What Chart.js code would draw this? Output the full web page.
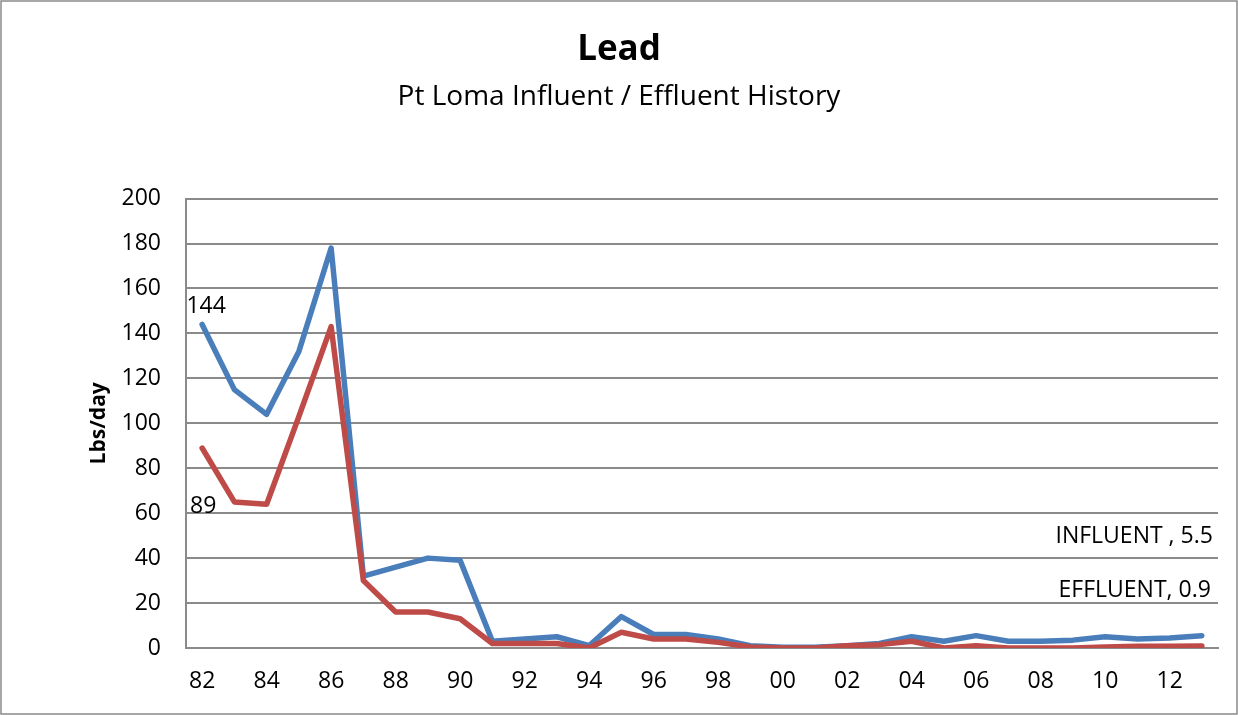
<!DOCTYPE html>
<html>
<head>
<meta charset="utf-8">
<script src="https://cdn.jsdelivr.net/npm/chart.js@4"></script>
<style>
  html, body { margin: 0; padding: 0; background: #fff; }
  #wrap { width: 1238px; height: 715px; }
</style>
</head>
<body>
<div id="wrap"><canvas id="leadCanvas" width="1238" height="715"></canvas></div>
<script>
// years 1982 - 2013, two-digit labels
const years = ["82","83","84","85","86","87","88","89","90","91","92","93","94","95","96","97",
               "98","99","00","01","02","03","04","05","06","07","08","09","10","11","12","13"];
const influent = [144, 115, 104, 132, 178, 32, 36, 40, 39, 3, 4, 5, 1, 14, 6, 6,
                  4, 1, 0.3, 0.3, 1, 2, 5, 3, 5.5, 3, 3, 3.5, 5, 4, 4.5, 5.5];
const effluent = [89, 65, 64, 103, 143, 30, 16, 16, 13, 2, 2, 2, 0, 7, 4, 4,
                  2.5, 0.5, 0, 0, 1, 1.5, 3, 0, 1, 0, 0, 0, 0.5, 0.8, 0.8, 0.9];
const yTicks = [0, 20, 40, 60, 80, 100, 120, 140, 160, 180, 200];

const FONT = "'Open Sans', 'Liberation Sans', sans-serif";
const GRID = "#8a8a8a";

// frame + hand placed data labels (like the excel ones)
const extras = {
    id: 'extras',
    beforeDraw(chart) {
        const c = chart.ctx;
        c.save();
        c.fillStyle = "#fff";
        c.fillRect(0, 0, chart.width, chart.height);
        c.strokeStyle = GRID;
        c.lineWidth = 1.5;
        c.strokeRect(1, 1, chart.width - 2, chart.height - 2);
        c.restore();
    },
    afterDatasetsDraw(chart) {
        const c = chart.ctx;
        const x = chart.scales.x, y = chart.scales.y;
        const last = years.length - 1;
        c.save();
        c.font = "23px " + FONT;
        c.fillStyle = "#000";
        c.textBaseline = "middle";
        c.textAlign = "center";
        c.fillText(String(influent[0]), x.getPixelForValue(0) + 4, y.getPixelForValue(influent[0]) - 18);
        c.fillText(String(effluent[0]), x.getPixelForValue(0) + 1, y.getPixelForValue(effluent[0]) + 58);
        c.textAlign = "right";
        c.fillText("INFLUENT , " + influent[last], x.getPixelForValue(last) + 11, y.getPixelForValue(influent[last]) - 99);
        c.fillText("EFFLUENT, " + effluent[last], x.getPixelForValue(last) + 9, y.getPixelForValue(effluent[last]) - 56);
        c.restore();
    }
};

const ctx = document.getElementById("leadCanvas");
const leadChart = new Chart(ctx, {
    type: 'line',
    data: {
        labels: years,
        datasets: [
            {
                label: "INFLUENT",
                data: influent,
                borderColor: "#4A7EBB",
                borderWidth: 5.5,
                order: 1
            },
            {
                label: "EFFLUENT",
                data: effluent,
                borderColor: "#BE4B48",
                borderWidth: 5.5,
                order: 0
            }
        ]
    },
    options: {
        responsive: false,
        animation: false,
        elements: {
            point: { radius: 0 },
            line: { tension: 0, borderCapStyle: 'round', borderJoinStyle: 'round' }
        },
        layout: { padding: { left: 20, right: 20, top: 0, bottom: 0 } },
        plugins: {
            legend: { display: false },
            tooltip: { enabled: false },
            title: {
                display: true,
                text: "Lead",
                color: "#000",
                font: { family: FONT, size: 35, weight: 'bold', lineHeight: 1.2 },
                padding: { top: 29, bottom: 9 }
            },
            subtitle: {
                display: true,
                text: "Pt Loma Influent / Effluent History",
                color: "#000",
                font: { family: FONT, size: 28, lineHeight: 1.2 },
                padding: { top: 0, bottom: 85 }
            }
        },
        scales: {
            x: {
                offset: true,
                grid: { display: false, drawTicks: false },
                border: { display: true, color: GRID, width: 2 },
                ticks: {
                    autoSkip: false,
                    maxRotation: 0,
                    padding: 20,
                    color: "#000",
                    font: { family: FONT, size: 23 },
                    callback: function (v, i) { return i % 2 === 0 ? years[i] : ""; }
                },
                afterFit: function (s) { s.height = 67; }
            },
            y: {
                min: 0,
                max: 200,
                afterBuildTicks: function (s) { s.ticks = yTicks.map(v => ({ value: v })); },
                grid: { color: GRID, lineWidth: 2, drawTicks: false },
                border: { display: true, color: GRID, width: 2 },
                ticks: {
                    padding: 25,
                    color: "#000",
                    font: { family: FONT, size: 23 }
                },
                title: {
                    display: true,
                    text: "Lbs/day",
                    color: "#000",
                    font: { family: FONT, size: 21, weight: 'bold', lineHeight: 1.2 },
                    padding: { top: 66, bottom: 0 }
                },
                afterFit: function (s) { s.width = 166; }
            }
        }
    },
    plugins: [extras]
});
</script>
</body>
</html>
